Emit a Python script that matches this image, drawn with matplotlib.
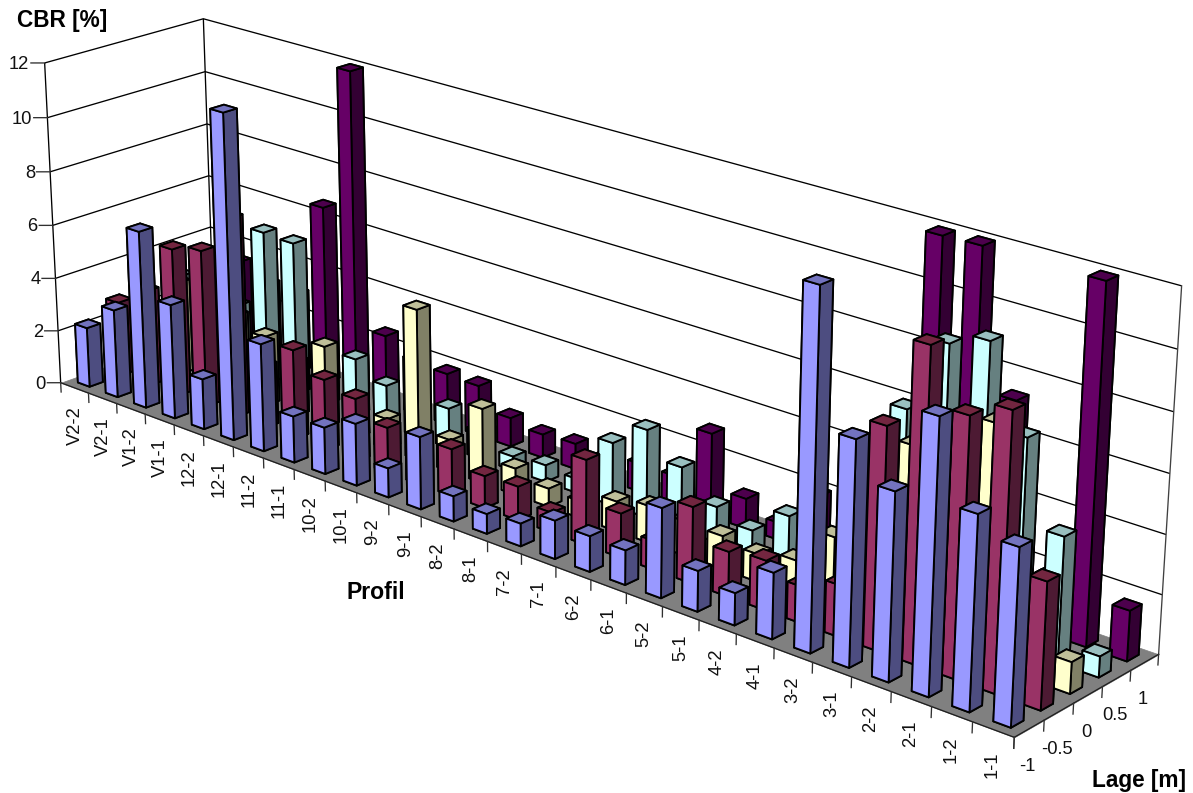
import numpy as np
import matplotlib
matplotlib.use("Agg")
import matplotlib.pyplot as plt
from mpl_toolkits.mplot3d import Axes3D, proj3d
from mpl_toolkits.mplot3d.art3d import Poly3DCollection

W, H = 1193, 793
plt.rcParams['font.family'] = ['Liberation Sans', 'DejaVu Sans']

profiles = ["V2-2","V2-1","V1-2","V1-1","12-2","12-1","11-2","11-1","10-2","10-1","9-2","9-1","8-2","8-1",
            "7-2","7-1","6-2","6-1","5-2","5-1","4-2","4-1","3-2","3-1","2-2","2-1","1-2","1-1"]
lage_labels = ["-1","-0.5","0","0.5","1"]
cbr_ticks = [0,2,4,6,8,10,12]

lage_m100 = [2.25,3.3,6.6,4.25,1.87,11.9,3.95,1.7,1.7,2.25,1.05,2.6,0.9,0.7,0.8,1.35,1.25,1.2,3.1,1.4,1.1,2.25,12.0,7.5,6.25,9.05,6.4,5.8]
lage_m050 = [2.8,3.6,5.55,5.85,7.4,2.3,3.3,2.6,2.3,1.65,1.2,1.7,1.15,1.2,0.7,3.0,1.55,1.0,2.65,1.55,1.7,1.25,1.75,7.47,10.45,8.62,9.2,4.2]
lage_000 = [2.0,3.5,3.0,3.0,2.6,2.0,3.0,1.2,1.1,5.5,1.15,2.7,0.95,0.65,0.6,1.05,1.3,1.2,1.15,0.95,1.2,2.45,3.0,6.35,4.0,7.9,1.5,1.05]
lage_050 = [3.0,3.0,2.6,5.75,5.7,2.0,2.1,1.5,2.0,1.45,1.0,0.5,0.6,0.5,2.25,3.13,2.22,1.25,0.85,1.8,1.0,1.0,6.7,9.25,9.72,7.0,4.2,0.7]
lage_100 = [2.0,3.5,3.0,3.0,6.65,12.0,2.55,2.0,1.9,1.85,1.05,0.85,0.92,0.8,1.0,1.0,2.95,1.05,0.6,2.0,1.0,1.5,11.97,12.0,7.35,1.8,11.97,1.7]
series = [lage_m100, lage_m050, lage_000, lage_050, lage_100]

front_colors = ["#9999FF","#993366","#FFFFCC","#CCFFFF","#660066"]
top_colors   = ["#7373BF","#732640","#BFBF99","#99BFBF","#4D004D"]
side_colors  = ["#4D4D80","#4D1A33","#808066","#668080","#330033"]

# camera: (x, y, z) -> pixel, solved from reference corners and tick positions
x_edge_px = [61,88,117,145,174,203.5,233,263,294,325,357,388.5,421,454,487,521.5,556,591,627,662,699,737,774,812,852,892,932,973,1014]
corr = [(i,0,0,u,383+(u-61)*0.3715) for i,u in enumerate(x_edge_px)]
corr += [(28,1,0,1044,720),(28,2,0,1073,703.5),(28,3,0,1102,687),(28,4,0,1131,670),(28,5,0,1159,654),
         (0,0,12,45,63),(0,0,10,47,117.5),(0,0,8,50,172),(0,0,6,53,226),(0,0,4,56,278),(0,0,2,58,330),
         (0,5,12,203,19),(0,5,10,205,71),(0,5,8,207,124),(0,5,6,209,176),(0,5,4,211,227),
         (28,5,12,1182,286),(28,5,10,1177,349),(28,5,8,1174,412),(28,5,6,1170,473),(28,5,4,1166,535),(28,5,2,1162,595)]
A = []
for X,Y,Z,u,v in corr:
    u = 2*u/W - 1            # normalise pixels to the [-1, 1] view box mplot3d expects
    v = 1 - 2*v/H
    A.append([X,Y,Z,1,0,0,0,0,-u*X,-u*Y,-u*Z,-u])
    A.append([0,0,0,0,X,Y,Z,1,-v*X,-v*Y,-v*Z,-v])
P = np.linalg.svd(np.array(A,float))[2][-1].reshape(3,4)
P = P/(2*P[2,3])
M = np.array([P[0],P[1],[0,0,0,-1.0],P[2]])

fig = plt.figure(figsize=(W/100,H/100),dpi=100,facecolor='white')
ax = fig.add_axes([0,0,1,1],projection='3d',computed_zorder=False)
ax.set_axis_off()
ax.patch.set_visible(False)
ax.apply_aspect = lambda position=None, **kw: None
ax.get_proj = lambda: M
ax.set_position([0,0,1,1])
ax.M = M

def project(X,Y,Z):
    a,b,_ = proj3d.proj_transform(X,Y,Z,M)
    return (a+1)/2,(b+1)/2

n_x, n_y, zmax = len(profiles), len(lage_labels), cbr_ticks[-1]
wall = dict(color='black',lw=0.95,zorder=2,solid_capstyle='butt')

floor = Poly3DCollection([[(0,0,0),(n_x,0,0),(n_x,n_y,0),(0,n_y,0)]],facecolors='#808080',edgecolors='#808080',linewidths=0.5,zorder=3)
ax.add_collection3d(floor)
for t in cbr_ticks[1:]:
    ax.plot([0,0,n_x],[0,n_y,n_y],[t,t,t],**wall)
ax.plot([0,0],[0,0],[0,zmax],**wall)
ax.plot([0,0],[n_y,n_y],[0,zmax],**wall)
ax.plot([n_x,n_x],[n_y,n_y],[0,zmax],color='#404040',lw=0.95,zorder=2)
ax.plot([0,n_x,n_x],[0,0,n_y],[0,0,0],color='#202020',lw=0.95,zorder=4)

# floor-front edge ticks
for i in range(n_x+1):
    ax.plot([i,i],[0,0],[0,-0.36],color='#303030',lw=0.95,zorder=4)
for j in range(n_y+1):
    ax.plot([n_x,n_x],[j,j],[0,-0.36],color='#303030',lw=0.95,zorder=4)
for t in cbr_ticks:
    ax.plot([0,-0.235],[0,-0.214],[t,t],color='#303030',lw=0.95,zorder=4)

frac = 0.42
lo = (1-frac)/2
order = 10
for j in range(n_y-1,-1,-1):
    for i in range(n_x):
        cols = [top_colors[j],top_colors[j],front_colors[j],front_colors[j],side_colors[j],side_colors[j]]
        col = ax.bar3d(i+lo,j+lo,0,frac,frac,series[j][i],color=cols,edgecolor='black',linewidth=1.35,shade=False)
        col.set_zorder(order)
        order += 1

ts = 13.2
for i,s in enumerate(profiles):
    a,b = project(i+0.5,0,-0.72)
    fig.text(a,b,s,rotation=90,ha='center',va='top',fontsize=ts,color='#111111')
for j,s in enumerate(lage_labels):
    a,b = project(n_x,j+0.5,-1.25)
    fig.text(a,b,s,ha='center',va='center',fontsize=ts,color='#111111')
for t in cbr_ticks:
    a,b = project(-0.26,-0.24,t)
    fig.text(a,b-1.5/H,str(t),ha='right',va='center',fontsize=ts,color='#111111')

fig.text(17/W,1-21/H,"CBR [%]",fontsize=16.3,fontweight='bold',ha='left',va='center')
fig.text(346/W,1-592.5/H,"Profil",fontsize=16.6,fontweight='bold',ha='left',va='center')
fig.text(1092/W,1-781/H,"Lage [m]",fontsize=16.3,fontweight='bold',ha='left',va='center')

ax.viewLim.intervalx = (-1,1)
ax.viewLim.intervaly = (-1,1)
fig.savefig("out.png",dpi=100)
